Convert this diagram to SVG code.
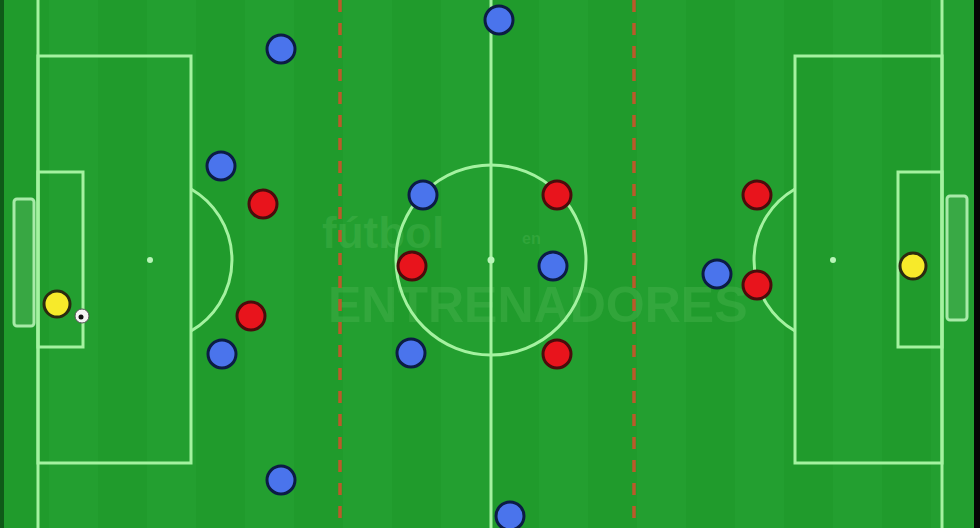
<svg xmlns="http://www.w3.org/2000/svg" width="980" height="528" viewBox="0 0 980 528">
<defs>
<pattern id="stripes" x="0" y="0" width="98" height="528" patternUnits="userSpaceOnUse">
<rect x="0" y="0" width="49" height="528" fill="#209b2c"/>
<rect x="49" y="0" width="49" height="528" fill="#239f30"/>
</pattern>
</defs>
<style>
.line{fill:none;stroke:#a4f2a0;stroke-width:3}
.goal{fill:#4fb45a;fill-opacity:0.5;stroke:#a8eaa8;stroke-width:3}
.spot{fill:#b8f5b8}
.div{stroke:#bb5a2a;stroke-width:3.5;stroke-dasharray:12 11;fill:none}
.blue{fill:#4a74ec;stroke:#0c1c44;stroke-width:3}
.red{fill:#e8141c;stroke:#4a0c0c;stroke-width:3}
.yellow{fill:#f7ea2a;stroke:#2a2a10;stroke-width:3}
.wm{font-family:"Liberation Sans",Arial,sans-serif;font-weight:bold;fill:#5cc060;fill-opacity:0.28}
</style>
<g id="pitch">
<rect x="0" y="0" width="980" height="528" fill="url(#stripes)"/>
<rect x="0" y="0" width="4" height="528" fill="#0f5a18"/>
<rect x="974" y="0" width="6" height="528" fill="#050805"/>
</g>
<g id="watermark">
<text class="wm" x="322" y="248" font-size="44">fútbol</text>
<text class="wm" x="522" y="244" font-size="16">en</text>
<text class="wm" x="328" y="322" font-size="50">ENTRENADORES</text>
</g>
<g id="markings">
<line class="line" x1="38" y1="0" x2="38" y2="528"/>
<line class="line" x1="942" y1="0" x2="942" y2="528"/>
<line class="line" x1="491" y1="0" x2="491" y2="528"/>
<rect class="line" x="38" y="56" width="153" height="407"/>
<rect class="line" x="38" y="172" width="45" height="175"/>
<path class="line" d="M191,189 A82,82 0 0 1 191,331"/>
<rect class="line" x="795" y="56" width="147" height="407"/>
<rect class="line" x="898" y="172" width="44" height="175"/>
<path class="line" d="M795,189 A82,82 0 0 0 795,331"/>
<circle class="line" cx="491" cy="260" r="95"/>
<circle class="spot" cx="491" cy="260" r="3.5"/>
<circle class="spot" cx="150" cy="260" r="3"/>
<circle class="spot" cx="833" cy="260" r="3"/>
<rect class="goal" x="14" y="199" width="20" height="127" rx="3"/>
<rect class="goal" x="947" y="196" width="20" height="124" rx="3"/>
</g>
<g id="zones">
<line class="div" x1="340" y1="0" x2="340" y2="528"/>
<line class="div" x1="634" y1="0" x2="634" y2="528"/>
</g>
<g id="blue-team">
<circle class="blue" cx="281" cy="49" r="14"/>
<circle class="blue" cx="221" cy="166" r="14"/>
<circle class="blue" cx="222" cy="354" r="14"/>
<circle class="blue" cx="281" cy="480" r="14"/>
<circle class="blue" cx="423" cy="195" r="14"/>
<circle class="blue" cx="553" cy="266" r="14"/>
<circle class="blue" cx="411" cy="353" r="14"/>
<circle class="blue" cx="499" cy="20" r="14"/>
<circle class="blue" cx="510" cy="516" r="14"/>
<circle class="blue" cx="717" cy="274" r="14"/>
</g>
<g id="red-team">
<circle class="red" cx="263" cy="204" r="14"/>
<circle class="red" cx="251" cy="316" r="14"/>
<circle class="red" cx="557" cy="195" r="14"/>
<circle class="red" cx="412" cy="266" r="14"/>
<circle class="red" cx="557" cy="354" r="14"/>
<circle class="red" cx="757" cy="195" r="14"/>
<circle class="red" cx="757" cy="285" r="14"/>
</g>
<g id="goalkeepers">
<circle class="yellow" cx="57" cy="304" r="13"/>
<circle class="yellow" cx="913" cy="266" r="13"/>
</g>
<g id="ball">
<circle cx="82" cy="316" r="7" fill="#f4f4f4" stroke="#555" stroke-width="1"/>
<circle cx="81" cy="317" r="2.5" fill="#111"/>
</g>
</svg>
